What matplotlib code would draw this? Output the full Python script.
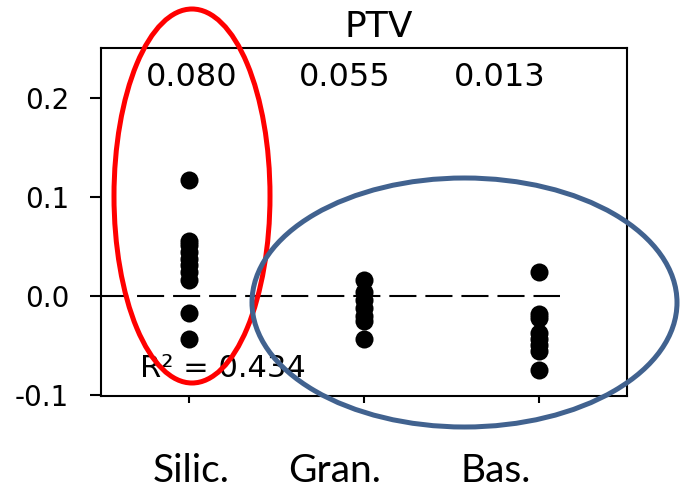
import matplotlib
matplotlib.use("Agg")
import matplotlib.pyplot as plt
import matplotlib.transforms as mtransforms
from matplotlib.patches import Ellipse

plt.rcParams['axes.unicode_minus'] = False

# group positions and measured points
group_pos = [1, 2, 3]
silic_vals = [0.117, 0.056, 0.051, 0.044, 0.037, 0.031, 0.024, 0.016, -0.017, -0.044]
gran_vals = [0.016, 0.004, -0.004, -0.012, -0.020, -0.026, -0.044]
bas_vals = [0.024, -0.018, -0.022, -0.038, -0.044, -0.050, -0.056, -0.075]

categories = ['Silic.', 'Gran.', 'Bas.']
group_stats = ['0.080', '0.055', '0.013']
r2_text = 'R² = 0.434'
y_ticks = [-0.1, 0.0, 0.1, 0.2]
y_ticklabels = ['-0.1', '0.0', '0.1', '0.2']

# label x spots (data units, not centred on the ticks in the original)
stat_x = [1.02, 1.89, 2.78]
cat_x = [1.017, 1.834, 2.754]

fig = plt.figure(figsize=(6.82, 4.90), dpi=100)
ax = fig.add_axes([101 / 682, 94 / 490, 526 / 682, 348 / 490])

for xpos, vals in zip(group_pos, [silic_vals, gran_vals, bas_vals]):
    ax.plot([xpos] * len(vals), vals, 'o', color='black', markersize=13,
            markeredgewidth=0, zorder=3)

ax.plot([0.5, 3.12], [0, 0], color='black', linewidth=1.5,
        linestyle=(0, (13, 4.3)), zorder=2)

ax.set_xlim(0.5, 3.505)
ax.set_ylim(-0.1015, 0.251)
ax.set_xticks(group_pos)
ax.set_xticklabels([])
ax.set_yticks(y_ticks)
ax.set_yticklabels(y_ticklabels, fontsize=20, family='DejaVu Sans')
ax.tick_params(axis='y', length=8, width=1.5, pad=15)
ax.tick_params(axis='x', length=5, width=1.5)
for sp in ax.spines.values():
    sp.set_linewidth(1.5)

for xs, s in zip(stat_x, group_stats):
    ax.text(xs, 0.2122, s, ha='center', va='baseline', fontsize=23,
            family='DejaVu Sans')
ax.text(0.72, -0.082, r2_text, ha='left', va='baseline', fontsize=22,
        family='DejaVu Sans')

fig.text(379 / 682, 1 - 37 / 490, 'PTV', ha='center', va='baseline',
         fontsize=26, family='DejaVu Sans')

trans = mtransforms.blended_transform_factory(ax.transData, fig.transFigure)
for xs, c in zip(cat_x, categories):
    ax.text(xs, 1 / 490, c, transform=trans, ha='center', va='bottom',
            fontsize=28, family='Lato', clip_on=False)

# hand-drawn highlight ellipses (pixel coordinates)
over = fig.add_axes([0, 0, 1, 1], facecolor='none')
over.set_xlim(0, 682)
over.set_ylim(490, 0)
over.axis('off')
over.add_patch(Ellipse((192, 196), 156, 374, fill=False, edgecolor='#FF0000',
                       linewidth=3.6))
over.add_patch(Ellipse((464.5, 302.5), 425, 249, fill=False,
                       edgecolor='#41628F', linewidth=3.6))

fig.savefig('out.png', dpi=100)
